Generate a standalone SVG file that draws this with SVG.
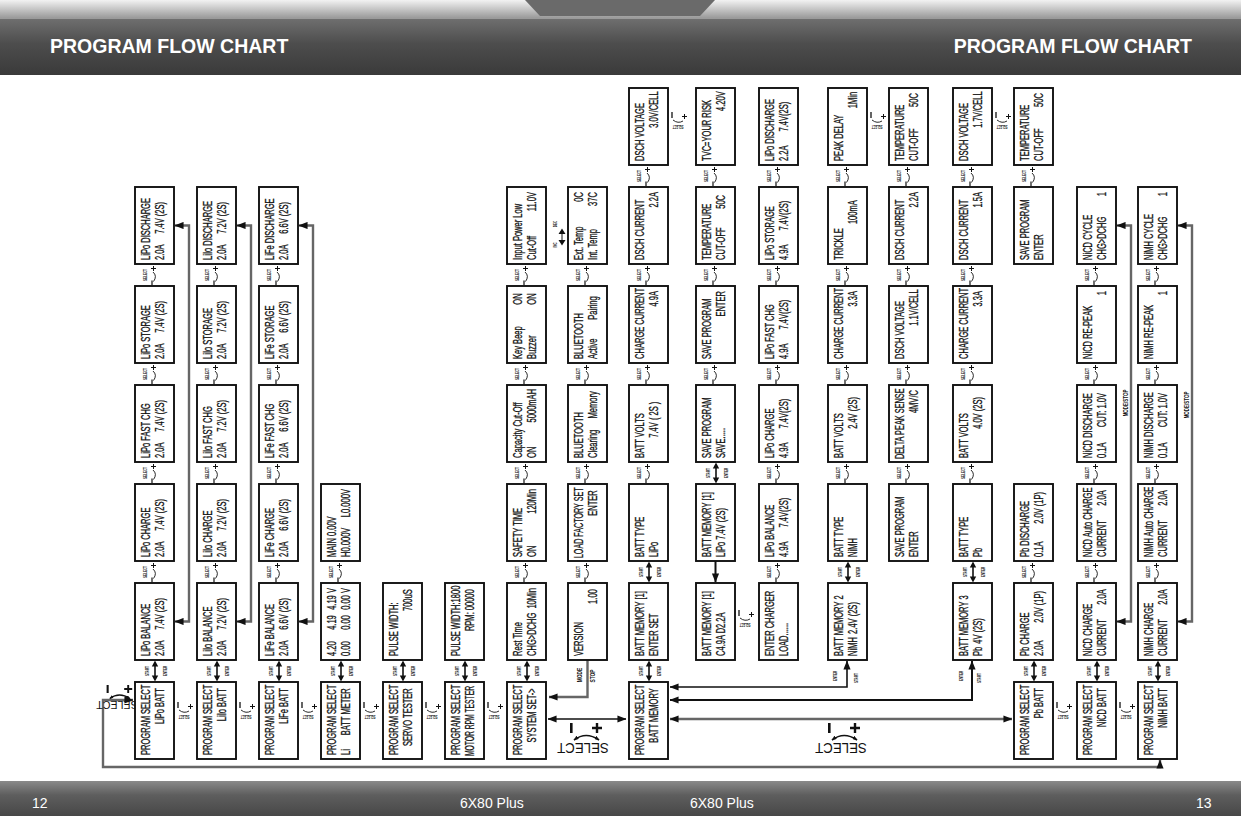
<svg xmlns="http://www.w3.org/2000/svg" width="1241" height="839" viewBox="0 0 1241 839">
<style>
.bx{fill:#fff;stroke:#111;stroke-width:1.9}
.t text{font-family:"Liberation Sans",Arial,sans-serif;font-size:13px;fill:#111;stroke:#111;stroke-width:.3}
.r{text-anchor:end}
.s{font-family:"Liberation Sans",Arial,sans-serif;font-weight:bold;fill:#111}
.k{stroke:#111;fill:none}
.g{stroke:#666;fill:none;stroke-width:2.4}
.hd{font-family:"Liberation Sans",Arial,sans-serif;font-weight:bold;font-size:19.5px;fill:#fff}
.ft{font-family:"Liberation Sans",Arial,sans-serif;font-size:14px;fill:#fff}
</style>
<defs>
<linearGradient id="hdr" x1="0" y1="0" x2="0" y2="1"><stop offset="0" stop-color="#707070"/><stop offset=".45" stop-color="#4d4d4d"/><stop offset="1" stop-color="#3a3a3a"/></linearGradient>
<linearGradient id="top" x1="0" y1="0" x2="0" y2="1"><stop offset="0" stop-color="#f2f2f2"/><stop offset="1" stop-color="#9a9a9a"/></linearGradient>
<linearGradient id="ftg" x1="0" y1="0" x2="0" y2="1"><stop offset="0" stop-color="#8a8a8a"/><stop offset=".4" stop-color="#5e5e5e"/><stop offset="1" stop-color="#474747"/></linearGradient>
<marker id="ah" viewBox="0 0 10 8" refX="9.5" refY="4" markerWidth="9" markerHeight="7.5" markerUnits="userSpaceOnUse" orient="auto-start-reverse"><path d="M0,0L10,4L0,8z" fill="#111"/></marker>
<marker id="as" viewBox="0 0 10 8" refX="9" refY="4" markerWidth="5" markerHeight="4" markerUnits="userSpaceOnUse" orient="auto-start-reverse"><path d="M0,0L10,4L0,8z" fill="#111"/></marker>
<g id="se">
<line x1="20" y1="5" x2="20" y2="17" stroke="#111" stroke-width="1.6"/>
<path d="M20,0.5L16.8,6.5H23.2zM20,21.5L16.8,15.5H23.2z" fill="#111"/>
<text class="s" font-size="6" text-anchor="middle" transform="translate(14,11) rotate(-90) scale(.5,1)">START</text>
<text class="s" font-size="6" text-anchor="middle" transform="translate(32,11) rotate(-90) scale(.5,1)">ENTER</text>
</g>
<g id="vs">
<text class="s" font-size="6" text-anchor="middle" transform="translate(12,11) rotate(-90) scale(.5,1)">SELECT</text>
<path d="M16,4.5H21M18.5,2V7" stroke="#111" stroke-width="1"/>
<path d="M18,8Q22.5,12 18.5,17.5" stroke="#111" stroke-width=".9" fill="none"/>
<path d="M17,16.5V21" stroke="#111" stroke-width="1.2"/>
</g>
<g id="hs">
<path d="M4,0V6" stroke="#111" stroke-width="1.3"/>
<path d="M5,8Q10,12 15,9" stroke="#111" stroke-width=".9" fill="none"/>
<path d="M14,4.5H19M16.5,2V7" stroke="#111" stroke-width="1"/>
<text class="s" font-size="5.5" text-anchor="middle" transform="translate(10,13) rotate(180) scale(.5,1)">SELECT</text>
</g>
<g id="bs">
<rect x="-13" y="0" width="2.6" height="10" fill="#111"/>
<path d="M9,5H19M14,0V10" stroke="#111" stroke-width="2.4"/>
<path d="M-9,17Q3,8 16,17" stroke="#111" stroke-width="1.6" fill="none" marker-start="url(#as)" marker-end="url(#as)"/>
<text font-family="Liberation Sans, Arial, sans-serif" font-size="14" fill="#111" text-anchor="middle" transform="translate(0,20) rotate(180) scale(.95,1)">SELECT</text>
</g>
</defs>

<rect width="1241" height="839" fill="#fff"/>
<g id="header">
<rect x="0" y="0" width="1241" height="18" fill="url(#top)"/>
<polygon points="525,0 715,0 700,16 540,16" fill="#6a6a6a"/>
<rect x="0" y="18" width="1241" height="57" fill="url(#hdr)"/>
<line x1="0" y1="18.5" x2="1241" y2="18.5" stroke="#9a9a9a"/>
<text class="hd" x="50" y="53">PROGRAM FLOW CHART</text>
<text class="hd" x="1192" y="53" text-anchor="end">PROGRAM FLOW CHART</text>
</g>
<g id="footer">
<rect x="0" y="781" width="1241" height="35" fill="url(#ftg)"/>
<text class="ft" x="32" y="808">12</text>
<text class="ft" x="460" y="808">6X80 Plus</text>
<text class="ft" x="690" y="808">6X80 Plus</text>
<text class="ft" x="1196" y="808">13</text>
</g>

<g id="connectors">
<path class="g" d="M1160,760V767H103V700H133" marker-start="url(#ah)" marker-end="url(#ah)"/>
<path class="k" stroke-width="1.6" d="M548,719H626" marker-start="url(#ah)" marker-end="url(#ah)"/>
<path class="g" stroke-width="2.8" d="M670,719H1012" marker-start="url(#ah)" marker-end="url(#ah)"/>
<path class="k" stroke-width="1.6" d="M670,687H847V661" marker-start="url(#ah)" marker-end="url(#ah)"/>
<path class="k" stroke-width="2" d="M670,700H972V661" marker-start="url(#ah)" marker-end="url(#ah)"/>
<path class="g" stroke-width="2" d="M587.5,660V697H549" marker-end="url(#ah)"/>
<path class="k" stroke-width="2" d="M715.5,561V582" marker-end="url(#ah)"/>
<path class="g" stroke-width="2" d="M175,225.5H189V621.5H175" marker-start="url(#ah)" marker-end="url(#ah)"/>
<path class="g" stroke-width="2" d="M237,225.5H251V621.5H237" marker-start="url(#ah)" marker-end="url(#ah)"/>
<path class="g" stroke-width="2" d="M299,225.5H313V621.5H299" marker-start="url(#ah)" marker-end="url(#ah)"/>
<path class="g" stroke-width="2" d="M1117,225.5H1131V621.5H1117" marker-start="url(#ah)" marker-end="url(#ah)"/>
<path class="g" stroke-width="2" d="M1178,225.5H1192V621.5H1178" marker-start="url(#ah)" marker-end="url(#ah)"/>
<text class="s" font-size="7" text-anchor="middle" transform="translate(582,675) rotate(-90) scale(.7,1)">MODE</text>
<text class="s" font-size="7" text-anchor="middle" transform="translate(595,676) rotate(-90) scale(.7,1)">STOP</text>
<text class="s" font-size="7" text-anchor="middle" transform="translate(1128,403) rotate(-90) scale(.64,1)">MODE/STOP</text>
<text class="s" font-size="7" text-anchor="middle" transform="translate(1189,405) rotate(-90) scale(.64,1)">MODE/STOP</text>
<text class="s" font-size="6" text-anchor="middle" transform="translate(837,676) rotate(-90) scale(.5,1)">ENTER</text>
<text class="s" font-size="6" text-anchor="middle" transform="translate(858,678) rotate(-90) scale(.5,1)">START</text>
<text class="s" font-size="6" text-anchor="middle" transform="translate(963,676) rotate(-90) scale(.5,1)">ENTER</text>
<text class="s" font-size="6" text-anchor="middle" transform="translate(981,678) rotate(-90) scale(.5,1)">START</text>
<text class="s" font-size="5" text-anchor="middle" transform="translate(557,245) rotate(-90) scale(.6,1)">INC</text>
<text class="s" font-size="5" text-anchor="middle" transform="translate(557,224) rotate(-90) scale(.6,1)">DEC</text>
<path d="M562,228.5L558.5,234H565.5zM562,245.5L558.5,240H565.5z" fill="#111"/>
<line x1="562" y1="234" x2="562" y2="240" stroke="#111"/>
<use href="#bs" transform="translate(117,685) scale(.8)"/>
<use href="#bs" x="583" y="723"/>
<use href="#bs" x="841" y="723"/>
<use href="#hs" x="174" y="702"/><use href="#hs" x="236" y="702"/><use href="#hs" x="298" y="702"/>
<use href="#hs" x="360" y="702"/><use href="#hs" x="422" y="702"/><use href="#hs" x="484" y="702"/>
<use href="#hs" x="1053" y="702"/><use href="#hs" x="1116" y="702"/>
<use href="#hs" x="668" y="112"/><use href="#hs" x="867" y="112"/><use href="#hs" x="992" y="112"/>
<use href="#hs" x="735" y="610"/>
<use href="#vs" x="135" y="264"/><use href="#vs" x="135" y="363"/><use href="#vs" x="135" y="462"/><use href="#vs" x="135" y="561"/><use href="#se" x="135" y="660"/>
<use href="#vs" x="197" y="264"/><use href="#vs" x="197" y="363"/><use href="#vs" x="197" y="462"/><use href="#vs" x="197" y="561"/><use href="#se" x="197" y="660"/>
<use href="#vs" x="259" y="264"/><use href="#vs" x="259" y="363"/><use href="#vs" x="259" y="462"/><use href="#vs" x="259" y="561"/><use href="#se" x="259" y="660"/>
<use href="#vs" x="321" y="561"/><use href="#se" x="321" y="660"/>
<use href="#se" x="383" y="660"/>
<use href="#se" x="445" y="660"/>
<use href="#vs" x="507" y="264"/><use href="#vs" x="507" y="363"/><use href="#vs" x="507" y="462"/><use href="#vs" x="507" y="561"/><use href="#se" x="507" y="660"/>
<use href="#vs" x="568" y="264"/><use href="#vs" x="568" y="363"/><use href="#vs" x="568" y="462"/><use href="#vs" x="568" y="561"/>
<use href="#vs" x="629" y="165"/><use href="#vs" x="629" y="264"/><use href="#vs" x="629" y="363"/><use href="#vs" x="629" y="462"/><use href="#se" x="629" y="561"/><use href="#se" x="629" y="660"/>
<use href="#vs" x="696" y="165"/><use href="#vs" x="696" y="264"/><use href="#vs" x="696" y="363"/><use href="#se" x="696" y="462"/>
<use href="#vs" x="759" y="165"/><use href="#vs" x="759" y="264"/><use href="#vs" x="759" y="363"/><use href="#vs" x="759" y="462"/><use href="#vs" x="759" y="561"/>
<use href="#vs" x="828" y="165"/><use href="#vs" x="828" y="264"/><use href="#vs" x="828" y="363"/><use href="#vs" x="828" y="462"/><use href="#se" x="828" y="561"/>
<use href="#vs" x="889" y="165"/><use href="#vs" x="889" y="264"/><use href="#vs" x="889" y="363"/><use href="#vs" x="889" y="462"/>
<use href="#vs" x="953" y="165"/><use href="#vs" x="953" y="264"/><use href="#vs" x="953" y="363"/><use href="#vs" x="953" y="462"/><use href="#se" x="953" y="561"/>
<use href="#vs" x="1014" y="165"/><use href="#vs" x="1014" y="561"/><use href="#se" x="1014" y="660"/>
<use href="#vs" x="1077" y="264"/><use href="#vs" x="1077" y="363"/><use href="#vs" x="1077" y="462"/><use href="#vs" x="1077" y="561"/><use href="#se" x="1077" y="660"/>
<use href="#vs" x="1138" y="264"/><use href="#vs" x="1138" y="363"/><use href="#vs" x="1138" y="462"/><use href="#vs" x="1138" y="561"/><use href="#se" x="1138" y="660"/>
</g>

<g id="nodes">
<g id="lipo_sel" transform="translate(135,682)"><rect class="bx" width="39" height="77"/><g class="t" transform="translate(0,77) rotate(-90) scale(.58,1)"><text x="7" y="15">PROGRAM SELECT</text><text class="r" x="122" y="29">LiPo BATT</text></g></g>
<g id="lipo_bal" transform="translate(135,583)"><rect class="bx" width="39" height="77"/><g class="t" transform="translate(0,77) rotate(-90) scale(.58,1)"><text x="7" y="15">LiPo BALANCE</text><text x="7" y="29">2.0A</text><text class="r" x="107" y="29">7.4V (2S)</text></g></g>
<g id="lipo_chg" transform="translate(135,484)"><rect class="bx" width="39" height="77"/><g class="t" transform="translate(0,77) rotate(-90) scale(.58,1)"><text x="7" y="15">LiPo CHARGE</text><text x="7" y="29">2.0A</text><text class="r" x="107" y="29">7.4V (2S)</text></g></g>
<g id="lipo_fast" transform="translate(135,385)"><rect class="bx" width="39" height="77"/><g class="t" transform="translate(0,77) rotate(-90) scale(.58,1)"><text x="7" y="15">LiPo FAST CHG</text><text x="7" y="29">2.0A</text><text class="r" x="107" y="29">7.4V (2S)</text></g></g>
<g id="lipo_sto" transform="translate(135,286)"><rect class="bx" width="39" height="77"/><g class="t" transform="translate(0,77) rotate(-90) scale(.58,1)"><text x="7" y="15">LiPo STORAGE</text><text x="7" y="29">2.0A</text><text class="r" x="107" y="29">7.4V (2S)</text></g></g>
<g id="lipo_dis" transform="translate(135,187)"><rect class="bx" width="39" height="77"/><g class="t" transform="translate(0,77) rotate(-90) scale(.58,1)"><text x="7" y="15">LiPo DISCHARGE</text><text x="7" y="29">2.0A</text><text class="r" x="107" y="29">7.4V (2S)</text></g></g>
<g id="liio_sel" transform="translate(197,682)"><rect class="bx" width="39" height="77"/><g class="t" transform="translate(0,77) rotate(-90) scale(.58,1)"><text x="7" y="15">PROGRAM SELECT</text><text class="r" x="122" y="29">LiIo BATT</text></g></g>
<g id="liio_bal" transform="translate(197,583)"><rect class="bx" width="39" height="77"/><g class="t" transform="translate(0,77) rotate(-90) scale(.58,1)"><text x="7" y="15">LiIo BALANCE</text><text x="7" y="29">2.0A</text><text class="r" x="107" y="29">7.2V (2S)</text></g></g>
<g id="liio_chg" transform="translate(197,484)"><rect class="bx" width="39" height="77"/><g class="t" transform="translate(0,77) rotate(-90) scale(.58,1)"><text x="7" y="15">LiIo CHARGE</text><text x="7" y="29">2.0A</text><text class="r" x="107" y="29">7.2V (2S)</text></g></g>
<g id="liio_fast" transform="translate(197,385)"><rect class="bx" width="39" height="77"/><g class="t" transform="translate(0,77) rotate(-90) scale(.58,1)"><text x="7" y="15">LiIo FAST CHG</text><text x="7" y="29">2.0A</text><text class="r" x="107" y="29">7.2V (2S)</text></g></g>
<g id="liio_sto" transform="translate(197,286)"><rect class="bx" width="39" height="77"/><g class="t" transform="translate(0,77) rotate(-90) scale(.58,1)"><text x="7" y="15">LiIo STORAGE</text><text x="7" y="29">2.0A</text><text class="r" x="107" y="29">7.2V (2S)</text></g></g>
<g id="liio_dis" transform="translate(197,187)"><rect class="bx" width="39" height="77"/><g class="t" transform="translate(0,77) rotate(-90) scale(.58,1)"><text x="7" y="15">LiIo DISCHARGE</text><text x="7" y="29">2.0A</text><text class="r" x="107" y="29">7.2V (2S)</text></g></g>
<g id="life_sel" transform="translate(259,682)"><rect class="bx" width="39" height="77"/><g class="t" transform="translate(0,77) rotate(-90) scale(.58,1)"><text x="7" y="15">PROGRAM SELECT</text><text class="r" x="122" y="29">LiFe BATT</text></g></g>
<g id="life_bal" transform="translate(259,583)"><rect class="bx" width="39" height="77"/><g class="t" transform="translate(0,77) rotate(-90) scale(.58,1)"><text x="7" y="15">LiFe BALANCE</text><text x="7" y="29">2.0A</text><text class="r" x="107" y="29">6.6V (2S)</text></g></g>
<g id="life_chg" transform="translate(259,484)"><rect class="bx" width="39" height="77"/><g class="t" transform="translate(0,77) rotate(-90) scale(.58,1)"><text x="7" y="15">LiFe CHARGE</text><text x="7" y="29">2.0A</text><text class="r" x="107" y="29">6.6V (2S)</text></g></g>
<g id="life_fast" transform="translate(259,385)"><rect class="bx" width="39" height="77"/><g class="t" transform="translate(0,77) rotate(-90) scale(.58,1)"><text x="7" y="15">LiFe FAST CHG</text><text x="7" y="29">2.0A</text><text class="r" x="107" y="29">6.6V (2S)</text></g></g>
<g id="life_sto" transform="translate(259,286)"><rect class="bx" width="39" height="77"/><g class="t" transform="translate(0,77) rotate(-90) scale(.58,1)"><text x="7" y="15">LiFe STORAGE</text><text x="7" y="29">2.0A</text><text class="r" x="107" y="29">6.6V (2S)</text></g></g>
<g id="life_dis" transform="translate(259,187)"><rect class="bx" width="39" height="77"/><g class="t" transform="translate(0,77) rotate(-90) scale(.58,1)"><text x="7" y="15">LiFe DISCHARGE</text><text x="7" y="29">2.0A</text><text class="r" x="107" y="29">6.6V (2S)</text></g></g>
<g id="meter_sel" transform="translate(321,682)"><rect class="bx" width="39" height="77"/><g class="t" transform="translate(0,77) rotate(-90) scale(.58,1)"><text x="7" y="15">PROGRAM SELECT</text><text x="7" y="29">Li</text><text class="r" x="122" y="29">BATT METER</text></g></g>
<g id="meter_cells" transform="translate(321,583)"><rect class="bx" width="39" height="77"/><g class="t" transform="translate(0,77) rotate(-90) scale(.58,1)"><text x="7" y="15">4.20</text><text x="52" y="15">4.19</text><text class="r" x="124" y="15">4.19 V</text><text x="7" y="29">0.00</text><text x="52" y="29">0.00</text><text class="r" x="124" y="29">0.00 V</text></g></g>
<g id="meter_main" transform="translate(321,484)"><rect class="bx" width="39" height="77"/><g class="t" transform="translate(0,77) rotate(-90) scale(.58,1)"><text x="7" y="15">MAIN 0.00V</text><text x="7" y="29">H0.000V</text><text class="r" x="124" y="29">L0.000V</text></g></g>
<g id="servo_sel" transform="translate(383,682)"><rect class="bx" width="39" height="77"/><g class="t" transform="translate(0,77) rotate(-90) scale(.58,1)"><text x="7" y="15">PROGRAM SELECT</text><text class="r" x="122" y="29">SERVO TESTER</text></g></g>
<g id="servo_pw" transform="translate(383,583)"><rect class="bx" width="39" height="77"/><g class="t" transform="translate(0,77) rotate(-90) scale(.58,1)"><text x="7" y="15">PULSE WIDTH:</text><text class="r" x="122" y="29">700uS</text></g></g>
<g id="motor_sel" transform="translate(445,682)"><rect class="bx" width="39" height="77"/><g class="t" transform="translate(0,77) rotate(-90) scale(.58,1)"><text x="7" y="15">PROGRAM SELECT</text><text x="5" y="29" textLength="121" lengthAdjust="spacingAndGlyphs">MOTOR RPM TESTER</text></g></g>
<g id="motor_pw" transform="translate(445,583)"><rect class="bx" width="39" height="77"/><g class="t" transform="translate(0,77) rotate(-90) scale(.58,1)"><text x="7" y="15">PULSE WIDTH:1800</text><text class="r" x="122" y="29">RPM: 00000</text></g></g>
<g id="sys_sel" transform="translate(507,682)"><rect class="bx" width="39" height="77"/><g class="t" transform="translate(0,77) rotate(-90) scale(.58,1)"><text x="7" y="15">PROGRAM SELECT</text><text class="r" x="122" y="29">SYSTEM SET-&gt;</text></g></g>
<g id="sys_rest" transform="translate(507,583)"><rect class="bx" width="39" height="77"/><g class="t" transform="translate(0,77) rotate(-90) scale(.58,1)"><text x="7" y="15">Rest Time</text><text x="7" y="29">CHG&gt;DCHG</text><text class="r" x="124" y="29">10Min</text></g></g>
<g id="sys_safety" transform="translate(507,484)"><rect class="bx" width="39" height="77"/><g class="t" transform="translate(0,77) rotate(-90) scale(.58,1)"><text x="7" y="15">SAFETY TIME</text><text x="7" y="29">ON</text><text class="r" x="124" y="29">120Min</text></g></g>
<g id="sys_cap" transform="translate(507,385)"><rect class="bx" width="39" height="77"/><g class="t" transform="translate(0,77) rotate(-90) scale(.58,1)"><text x="7" y="15">Capacity Cut-Off</text><text x="7" y="29">ON</text><text class="r" x="126" y="29">5000mAH</text></g></g>
<g id="sys_beep" transform="translate(507,286)"><rect class="bx" width="39" height="77"/><g class="t" transform="translate(0,77) rotate(-90) scale(.58,1)"><text x="7" y="15">Key Beep</text><text class="r" x="120" y="15">ON</text><text x="7" y="29">Buzzer</text><text class="r" x="120" y="29">ON</text></g></g>
<g id="sys_input" transform="translate(507,187)"><rect class="bx" width="39" height="77"/><g class="t" transform="translate(0,77) rotate(-90) scale(.58,1)"><text x="7" y="15">Input Power Low</text><text x="7" y="29">Cut-Off</text><text class="r" x="124" y="29">11.0V</text></g></g>
<g id="sys_version" transform="translate(568,583)"><rect class="bx" width="39" height="77"/><g class="t" transform="translate(0,77) rotate(-90) scale(.58,1)"><text x="7" y="15">VERSION</text><text class="r" x="122" y="29">1.00</text></g></g>
<g id="sys_factory" transform="translate(568,484)"><rect class="bx" width="39" height="77"/><g class="t" transform="translate(0,77) rotate(-90) scale(.58,1)"><text x="5" y="15" textLength="122" lengthAdjust="spacingAndGlyphs">LOAD FACTORY SET</text><text class="r" x="122" y="29">ENTER</text></g></g>
<g id="sys_bt_clear" transform="translate(568,385)"><rect class="bx" width="39" height="77"/><g class="t" transform="translate(0,77) rotate(-90) scale(.58,1)"><text x="7" y="15">BLUETOOTH</text><text x="7" y="29">Clearing</text><text class="r" x="122" y="29">Memory</text></g></g>
<g id="sys_bt_pair" transform="translate(568,286)"><rect class="bx" width="39" height="77"/><g class="t" transform="translate(0,77) rotate(-90) scale(.58,1)"><text x="7" y="15">BLUETOOTH</text><text x="7" y="29">Active</text><text class="r" x="115" y="29">Pairing</text></g></g>
<g id="sys_temp" transform="translate(568,187)"><rect class="bx" width="39" height="77"/><g class="t" transform="translate(0,77) rotate(-90) scale(.58,1)"><text x="7" y="15">Ext. Temp</text><text class="r" x="124" y="15">0C</text><text x="7" y="29">Int. Temp</text><text class="r" x="124" y="29">37C</text></g></g>
<g id="mem_sel" transform="translate(629,682)"><rect class="bx" width="39" height="77"/><g class="t" transform="translate(0,77) rotate(-90) scale(.58,1)"><text x="7" y="15">PROGRAM SELECT</text><text class="r" x="122" y="29">BATT MEMORY</text></g></g>
<g id="mem_set" transform="translate(629,583)"><rect class="bx" width="39" height="77"/><g class="t" transform="translate(0,77) rotate(-90) scale(.58,1)"><text x="7" y="15">BATT MEMORY [1]</text><text x="7" y="29">ENTER SET</text></g></g>
<g id="mem_type" transform="translate(629,484)"><rect class="bx" width="39" height="77"/><g class="t" transform="translate(0,77) rotate(-90) scale(.58,1)"><text x="7" y="15">BATT TYPE</text><text x="7" y="29">LiPo</text></g></g>
<g id="mem_volts" transform="translate(629,385)"><rect class="bx" width="39" height="77"/><g class="t" transform="translate(0,77) rotate(-90) scale(.58,1)"><text x="7" y="15">BATT VOLTS</text><text class="r" x="104" y="29">7.4V ( 2S )</text></g></g>
<g id="mem_chgcur" transform="translate(629,286)"><rect class="bx" width="39" height="77"/><g class="t" transform="translate(0,77) rotate(-90) scale(.58,1)"><text x="7" y="15">CHARGE CURRENT</text><text class="r" x="124" y="29">4.9A</text></g></g>
<g id="mem_dscur" transform="translate(629,187)"><rect class="bx" width="39" height="77"/><g class="t" transform="translate(0,77) rotate(-90) scale(.58,1)"><text x="7" y="15">DSCH CURRENT</text><text class="r" x="124" y="29">2.2A</text></g></g>
<g id="mem_dsvolt" transform="translate(629,88)"><rect class="bx" width="39" height="77"/><g class="t" transform="translate(0,77) rotate(-90) scale(.58,1)"><text x="7" y="15">DSCH VOLTAGE</text><text class="r" x="127" y="29">3.0V/CELL</text></g></g>
<g id="mem_tvc" transform="translate(696,88)"><rect class="bx" width="39" height="77"/><g class="t" transform="translate(0,77) rotate(-90) scale(.58,1)"><text x="7" y="15">TVC=YOUR RISK</text><text class="r" x="127" y="29">4.20V</text></g></g>
<g id="mem_temp" transform="translate(696,187)"><rect class="bx" width="39" height="77"/><g class="t" transform="translate(0,77) rotate(-90) scale(.58,1)"><text x="7" y="15">TEMPERATURE</text><text x="7" y="29">CUT-OFF</text><text class="r" x="119" y="29">50C</text></g></g>
<g id="mem_save1" transform="translate(696,286)"><rect class="bx" width="39" height="77"/><g class="t" transform="translate(0,77) rotate(-90) scale(.58,1)"><text x="7" y="15">SAVE PROGRAM</text><text class="r" x="124" y="29">ENTER</text></g></g>
<g id="mem_save2" transform="translate(696,385)"><rect class="bx" width="39" height="77"/><g class="t" transform="translate(0,77) rotate(-90) scale(.58,1)"><text x="7" y="15">SAVE PROGRAM</text><text x="7" y="29">SAVE.....</text></g></g>
<g id="mem_lipo" transform="translate(696,484)"><rect class="bx" width="39" height="77"/><g class="t" transform="translate(0,77) rotate(-90) scale(.58,1)"><text x="7" y="15">BATT MEMORY [1]</text><text x="7" y="29">LiPo 7.4V (2S)</text></g></g>
<g id="mem_cd" transform="translate(696,583)"><rect class="bx" width="39" height="77"/><g class="t" transform="translate(0,77) rotate(-90) scale(.58,1)"><text x="7" y="15">BATT MEMORY [1]</text><text x="7" y="29">C4.9A D2.2A</text></g></g>
<g id="mem_ldis" transform="translate(759,88)"><rect class="bx" width="39" height="77"/><g class="t" transform="translate(0,77) rotate(-90) scale(.58,1)"><text x="7" y="15">LiPo DISCHARGE</text><text x="7" y="29">2.2A</text><text class="r" x="109" y="29">7.4V(2S)</text></g></g>
<g id="mem_lsto" transform="translate(759,187)"><rect class="bx" width="39" height="77"/><g class="t" transform="translate(0,77) rotate(-90) scale(.58,1)"><text x="7" y="15">LiPo STORAGE</text><text x="7" y="29">4.9A</text><text class="r" x="109" y="29">7.4V(2S)</text></g></g>
<g id="mem_lfast" transform="translate(759,286)"><rect class="bx" width="39" height="77"/><g class="t" transform="translate(0,77) rotate(-90) scale(.58,1)"><text x="7" y="15">LiPo FAST CHG</text><text x="7" y="29">4.9A</text><text class="r" x="109" y="29">7.4V(2S)</text></g></g>
<g id="mem_lchg" transform="translate(759,385)"><rect class="bx" width="39" height="77"/><g class="t" transform="translate(0,77) rotate(-90) scale(.58,1)"><text x="7" y="15">LiPo CHARGE</text><text x="7" y="29">4.9A</text><text class="r" x="109" y="29">7.4V(2S)</text></g></g>
<g id="mem_lbal" transform="translate(759,484)"><rect class="bx" width="39" height="77"/><g class="t" transform="translate(0,77) rotate(-90) scale(.58,1)"><text x="7" y="15">LiPo BALANCE</text><text x="7" y="29">4.9A</text><text class="r" x="109" y="29">7.4V(2S)</text></g></g>
<g id="mem_enter" transform="translate(759,583)"><rect class="bx" width="39" height="77"/><g class="t" transform="translate(0,77) rotate(-90) scale(.58,1)"><text x="7" y="15">ENTER CHARGER</text><text x="7" y="29">LOAD......</text></g></g>
<g id="m2_peak" transform="translate(828,88)"><rect class="bx" width="39" height="77"/><g class="t" transform="translate(0,77) rotate(-90) scale(.58,1)"><text x="7" y="15">PEAK DELAY</text><text class="r" x="126" y="29">1Min</text></g></g>
<g id="m2_trickle" transform="translate(828,187)"><rect class="bx" width="39" height="77"/><g class="t" transform="translate(0,77) rotate(-90) scale(.58,1)"><text x="7" y="15">TRICKLE</text><text class="r" x="110" y="29">100mA</text></g></g>
<g id="m2_chgcur" transform="translate(828,286)"><rect class="bx" width="39" height="77"/><g class="t" transform="translate(0,77) rotate(-90) scale(.58,1)"><text x="7" y="15">CHARGE CURRENT</text><text class="r" x="124" y="29">3.3A</text></g></g>
<g id="m2_volts" transform="translate(828,385)"><rect class="bx" width="39" height="77"/><g class="t" transform="translate(0,77) rotate(-90) scale(.58,1)"><text x="7" y="15">BATT VOLTS</text><text class="r" x="112" y="29">2.4V (2S)</text></g></g>
<g id="m2_type" transform="translate(828,484)"><rect class="bx" width="39" height="77"/><g class="t" transform="translate(0,77) rotate(-90) scale(.58,1)"><text x="7" y="15">BATT TYPE</text><text x="7" y="29">NiMH</text></g></g>
<g id="m2_mem" transform="translate(828,583)"><rect class="bx" width="39" height="77"/><g class="t" transform="translate(0,77) rotate(-90) scale(.58,1)"><text x="7" y="15">BATT MEMORY 2</text><text x="7" y="29">NiMH</text><text x="45" y="29">2.4V (2S)</text></g></g>
<g id="m2_temp" transform="translate(889,88)"><rect class="bx" width="39" height="77"/><g class="t" transform="translate(0,77) rotate(-90) scale(.58,1)"><text x="7" y="15">TEMPERATURE</text><text x="7" y="29">CUT-OFF</text><text class="r" x="124" y="29">50C</text></g></g>
<g id="m2_dscur" transform="translate(889,187)"><rect class="bx" width="39" height="77"/><g class="t" transform="translate(0,77) rotate(-90) scale(.58,1)"><text x="7" y="15">DSCH CURRENT</text><text class="r" x="124" y="29">2.2A</text></g></g>
<g id="m2_dsvolt" transform="translate(889,286)"><rect class="bx" width="39" height="77"/><g class="t" transform="translate(0,77) rotate(-90) scale(.58,1)"><text x="7" y="15">DSCH VOLTAGE</text><text class="r" x="127" y="29">1.1V/CELL</text></g></g>
<g id="m2_delta" transform="translate(889,385)"><rect class="bx" width="39" height="77"/><g class="t" transform="translate(0,77) rotate(-90) scale(.58,1)"><text x="5" y="15" textLength="122" lengthAdjust="spacingAndGlyphs">DELTA PEAK SENSE</text><text class="r" x="124" y="29">4MV/C</text></g></g>
<g id="m2_save" transform="translate(889,484)"><rect class="bx" width="39" height="77"/><g class="t" transform="translate(0,77) rotate(-90) scale(.58,1)"><text x="7" y="15">SAVE PROGRAM</text><text x="7" y="29">ENTER</text></g></g>
<g id="m3_dsvolt" transform="translate(953,88)"><rect class="bx" width="39" height="77"/><g class="t" transform="translate(0,77) rotate(-90) scale(.58,1)"><text x="7" y="15">DSCH VOLTAGE</text><text class="r" x="127" y="29">1.7V/CELL</text></g></g>
<g id="m3_dscur" transform="translate(953,187)"><rect class="bx" width="39" height="77"/><g class="t" transform="translate(0,77) rotate(-90) scale(.58,1)"><text x="7" y="15">DSCH CURRENT</text><text class="r" x="124" y="29">1.5A</text></g></g>
<g id="m3_chgcur" transform="translate(953,286)"><rect class="bx" width="39" height="77"/><g class="t" transform="translate(0,77) rotate(-90) scale(.58,1)"><text x="7" y="15">CHARGE CURRENT</text><text class="r" x="124" y="29">3.3A</text></g></g>
<g id="m3_volts" transform="translate(953,385)"><rect class="bx" width="39" height="77"/><g class="t" transform="translate(0,77) rotate(-90) scale(.58,1)"><text x="7" y="15">BATT VOLTS</text><text class="r" x="112" y="29">4.0V (2S)</text></g></g>
<g id="m3_type" transform="translate(953,484)"><rect class="bx" width="39" height="77"/><g class="t" transform="translate(0,77) rotate(-90) scale(.58,1)"><text x="7" y="15">BATT TYPE</text><text x="7" y="29">Pb</text></g></g>
<g id="m3_mem" transform="translate(953,583)"><rect class="bx" width="39" height="77"/><g class="t" transform="translate(0,77) rotate(-90) scale(.58,1)"><text x="7" y="15">BATT MEMORY 3</text><text x="7" y="29">Pb</text><text x="28" y="29">4V (2S)</text></g></g>
<g id="m3_temp" transform="translate(1014,88)"><rect class="bx" width="39" height="77"/><g class="t" transform="translate(0,77) rotate(-90) scale(.58,1)"><text x="7" y="15">TEMPERATURE</text><text x="7" y="29">CUT-OFF</text><text class="r" x="124" y="29">50C</text></g></g>
<g id="m3_save" transform="translate(1014,187)"><rect class="bx" width="39" height="77"/><g class="t" transform="translate(0,77) rotate(-90) scale(.58,1)"><text x="7" y="15">SAVE PROGRAM</text><text x="7" y="29">ENTER</text></g></g>
<g id="pb_dis" transform="translate(1014,484)"><rect class="bx" width="39" height="77"/><g class="t" transform="translate(0,77) rotate(-90) scale(.58,1)"><text x="7" y="15">Pb DISCHARGE</text><text x="7" y="29">0.1A</text><text class="r" x="119" y="29">2.0V (1P)</text></g></g>
<g id="pb_chg" transform="translate(1014,583)"><rect class="bx" width="39" height="77"/><g class="t" transform="translate(0,77) rotate(-90) scale(.58,1)"><text x="7" y="15">Pb CHARGE</text><text x="7" y="29">2.0A</text><text class="r" x="119" y="29">2.0V (1P)</text></g></g>
<g id="pb_sel" transform="translate(1014,682)"><rect class="bx" width="39" height="77"/><g class="t" transform="translate(0,77) rotate(-90) scale(.58,1)"><text x="7" y="15">PROGRAM SELECT</text><text class="r" x="122" y="29">Pb BATT</text></g></g>
<g id="nicd_cycle" transform="translate(1077,187)"><rect class="bx" width="39" height="77"/><g class="t" transform="translate(0,77) rotate(-90) scale(.58,1)"><text x="7" y="15">NiCD CYCLE</text><text x="7" y="29">CHG&gt;DCHG</text><text class="r" x="124" y="29">1</text></g></g>
<g id="nicd_repeak" transform="translate(1077,286)"><rect class="bx" width="39" height="77"/><g class="t" transform="translate(0,77) rotate(-90) scale(.58,1)"><text x="7" y="15">NiCD RE-PEAK</text><text class="r" x="124" y="29">1</text></g></g>
<g id="nicd_dis" transform="translate(1077,385)"><rect class="bx" width="39" height="77"/><g class="t" transform="translate(0,77) rotate(-90) scale(.58,1)"><text x="7" y="15">NiCD DISCHARGE</text><text x="7" y="29">0.1A</text><text class="r" x="119" y="29">CUT: 1.0V</text></g></g>
<g id="nicd_auto" transform="translate(1077,484)"><rect class="bx" width="39" height="77"/><g class="t" transform="translate(0,77) rotate(-90) scale(.58,1)"><text x="7" y="15">NiCD Auto CHARGE</text><text x="7" y="29">CURRENT</text><text class="r" x="122" y="29">2.0A</text></g></g>
<g id="nicd_chg" transform="translate(1077,583)"><rect class="bx" width="39" height="77"/><g class="t" transform="translate(0,77) rotate(-90) scale(.58,1)"><text x="7" y="15">NiCD CHARGE</text><text x="7" y="29">CURRENT</text><text class="r" x="122" y="29">2.0A</text></g></g>
<g id="nicd_sel" transform="translate(1077,682)"><rect class="bx" width="39" height="77"/><g class="t" transform="translate(0,77) rotate(-90) scale(.58,1)"><text x="7" y="15">PROGRAM SELECT</text><text class="r" x="122" y="29">NiCD BATT</text></g></g>
<g id="nimh_cycle" transform="translate(1138,187)"><rect class="bx" width="39" height="77"/><g class="t" transform="translate(0,77) rotate(-90) scale(.58,1)"><text x="7" y="15">NiMH CYCLE</text><text x="7" y="29">CHG&gt;DCHG</text><text class="r" x="124" y="29">1</text></g></g>
<g id="nimh_repeak" transform="translate(1138,286)"><rect class="bx" width="39" height="77"/><g class="t" transform="translate(0,77) rotate(-90) scale(.58,1)"><text x="7" y="15">NiMH RE-PEAK</text><text class="r" x="124" y="29">1</text></g></g>
<g id="nimh_dis" transform="translate(1138,385)"><rect class="bx" width="39" height="77"/><g class="t" transform="translate(0,77) rotate(-90) scale(.58,1)"><text x="7" y="15">NiMH DISCHARGE</text><text x="7" y="29">0.1A</text><text class="r" x="119" y="29">CUT: 1.0V</text></g></g>
<g id="nimh_auto" transform="translate(1138,484)"><rect class="bx" width="39" height="77"/><g class="t" transform="translate(0,77) rotate(-90) scale(.58,1)"><text x="7" y="15">NiMH Auto CHARGE</text><text x="7" y="29">CURRENT</text><text class="r" x="122" y="29">2.0A</text></g></g>
<g id="nimh_chg" transform="translate(1138,583)"><rect class="bx" width="39" height="77"/><g class="t" transform="translate(0,77) rotate(-90) scale(.58,1)"><text x="7" y="15">NiMH CHARGE</text><text x="7" y="29">CURRENT</text><text class="r" x="122" y="29">2.0A</text></g></g>
<g id="nimh_sel" transform="translate(1138,682)"><rect class="bx" width="39" height="77"/><g class="t" transform="translate(0,77) rotate(-90) scale(.58,1)"><text x="7" y="15">PROGRAM SELECT</text><text class="r" x="122" y="29">NiMH BATT</text></g></g>
</g>
</svg>
